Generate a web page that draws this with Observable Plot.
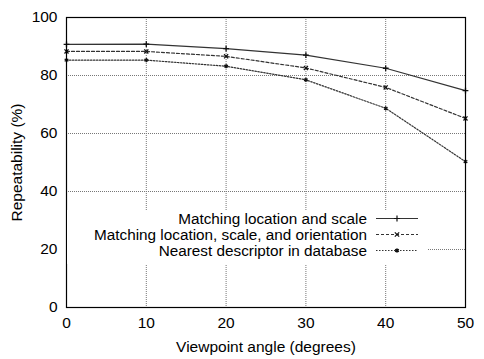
<!DOCTYPE html>
<html><head><meta charset="utf-8">
<script src="https://cdn.jsdelivr.net/npm/d3@7"></script>
<script src="https://cdn.jsdelivr.net/npm/@observablehq/plot@0.6"></script>
<style>
body{margin:0;background:#fff;}
#wrap{position:relative;width:484px;height:359px;}
#legend{position:absolute;left:67px;top:210px;width:360px;height:54px;background:#fff;font-family:"Liberation Sans",Arial,sans-serif;font-size:15.3px;color:#000;}
.row{position:absolute;left:0;height:16px;width:360px;}
.row span{position:absolute;right:60px;top:1px;line-height:16px;white-space:nowrap;}
.row svg{position:absolute;left:309px;top:0;}
</style>
</head><body>
<div id="wrap"><div id="legend"></div></div>
<script>
const angles = [0, 10, 20, 30, 40, 50];
const seriesNames = ["Matching location and scale", "Matching location, scale, and orientation", "Nearest descriptor in database"];
const locScale = [90.7, 90.8, 89.3, 87.0, 82.5, 74.8];
const locScaleOri = [88.3, 88.3, 86.6, 82.6, 75.9, 65.2];
const nearestDesc = [85.3, 85.3, 83.2, 78.5, 68.7, 50.3];
const xTicks = [0, 10, 20, 30, 40, 50];
const yTicks = [0, 20, 40, 60, 80, 100];

const seriesValues = [locScale, locScaleOri, nearestDesc];
const dashes = [null, "3,2", "1.5,1.5"];
const symbols = ["plus", "times", "asterisk"];

const lineMarks = [];
seriesValues.forEach((vals, i) => {
  const data = angles.map((a, j) => ({x: a, y: vals[j]}));
  lineMarks.push(Plot.line(data, {x: "x", y: "y", stroke: "#333", strokeWidth: 1.2, strokeDasharray: dashes[i]}));
  lineMarks.push(Plot.dot(data, {x: "x", y: "y", symbol: symbols[i], r: 2, stroke: "#111", fill: "#111", strokeWidth: 1.3}));
});

const chart = Plot.plot({
  width: 484, height: 359,
  marginLeft: 66, marginRight: 19, marginTop: 17, marginBottom: 52,
  style: {fontFamily: "'Liberation Sans', Arial, sans-serif", fontSize: "15.5px", color: "#000", background: "white"},
  x: {domain: [0, 50]},
  y: {domain: [0, 100]},
  marks: [
    Plot.gridX(xTicks, {stroke: "#777", strokeOpacity: 1, strokeDasharray: "1,1"}),
    Plot.gridY(yTicks, {stroke: "#777", strokeOpacity: 1, strokeDasharray: "1,1"}),
    Plot.axisX(xTicks, {tickSize: 0, tickPadding: 9, label: "Viewpoint angle (degrees)", labelAnchor: "center", labelArrow: "none", labelOffset: 44}),
    Plot.axisY(yTicks, {tickSize: 0, tickPadding: 9, label: "Repeatability (%)", labelAnchor: "center", labelArrow: "none", labelOffset: 56}),
    ...lineMarks,
    Plot.frame({stroke: "#000", strokeWidth: 1.2})
  ]
});
const wrap = document.getElementById("wrap");
wrap.insertBefore(chart, wrap.firstChild);

const legend = document.getElementById("legend");
const tops = [0, 16, 32];
seriesNames.forEach((name, i) => {
  const row = document.createElement("div");
  row.className = "row";
  row.style.top = tops[i] + "px";
  const span = document.createElement("span");
  span.textContent = name;
  row.appendChild(span);
  const svg = d3.create("svg").attr("width", 44).attr("height", 16);
  svg.append("line").attr("x1", 0).attr("x2", 42).attr("y1", 8.5).attr("y2", 8.5)
    .attr("stroke", "#333").attr("stroke-width", 1.2).attr("stroke-dasharray", dashes[i]);
  svg.append("path").attr("transform", "translate(21,8.5)")
    .attr("d", d3.symbol(i === 0 ? d3.symbolPlus : i === 1 ? d3.symbolTimes : d3.symbolAsterisk, 14)())
    .attr("stroke", "#111").attr("fill", "#111").attr("stroke-width", 1.2);
  row.appendChild(svg.node());
  legend.appendChild(row);
});
</script>
</body></html>
